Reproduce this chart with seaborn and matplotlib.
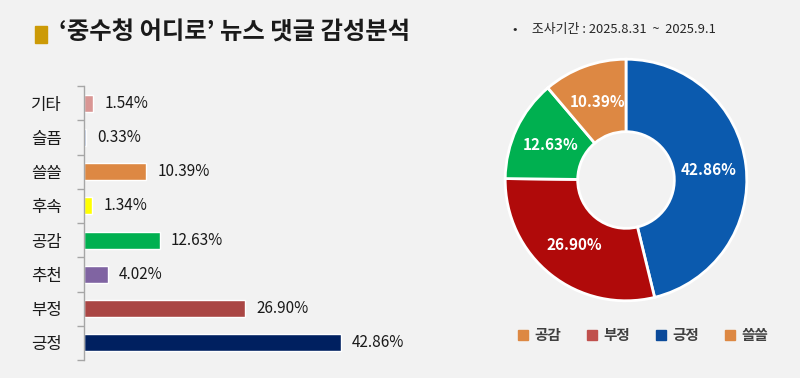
import numpy as np
import pandas as pd
import matplotlib
matplotlib.use('Agg')
import matplotlib.pyplot as plt
import seaborn as sns
from matplotlib.patches import Rectangle
from matplotlib.lines import Line2D

# 데이터
categories = ['기타', '슬픔', '쓸쓸', '후속', '공감', '추천', '부정', '긍정']
values = [1.54, 0.33, 10.39, 1.34, 12.63, 4.02, 26.90, 42.86]
bar_colors = ['#D99694', '#B4C7E7', '#DD8843', '#FFFF00', '#00B050', '#8064A2', '#AA4644', '#002060']

pie_labels = ['긍정', '부정', '공감', '쓸쓸']
pie_values = [42.86, 26.90, 12.63, 10.39]
pie_colors = ['#0B5AAE', '#B00A0A', '#00B050', '#DD8843']

legend_labels = ['공감', '부정', '긍정', '쓸쓸']
legend_colors = ['#DD8843', '#C0504D', '#0B4A9A', '#DD8843']

sns.set_style('white')
plt.rcParams['font.family'] = ['Noto Sans CJK KR', 'DejaVu Sans']
plt.rcParams['axes.unicode_minus'] = False

bg = '#F2F2F2'
fig = plt.figure(figsize=(8, 3.78), dpi=100, facecolor=bg)

# 제목
fig.patches.append(Rectangle((35 / 800, 1 - 43 / 378), 12 / 800, 17 / 378,
                             transform=fig.transFigure, color='#CC9A06'))
fig.text(59 / 800, 1 - 33 / 378, '‘중수청 어디로’ 뉴스 댓글 감성분석',
         fontsize=17.5, fontweight='bold', color='#1A1A1A', va='center')
fig.text(513 / 800, 1 - 30 / 378, '•     조사기간 : 2025.8.31  ~  2025.9.1',
         fontsize=9.3, color='#262626', va='center')

# 막대 그래프
ax = fig.add_axes([84 / 800, 1 - 360 / 378, 346 / 800, 274 / 378])
ax.set_facecolor(bg)
df = pd.DataFrame({'category': categories, 'value': values})
sns.barplot(data=df, x='value', y='category', hue='category',
            palette=dict(zip(categories, bar_colors)), width=0.5, saturation=1,
            legend=False, ax=ax, order=categories)
ax.set_xlim(0, 57.7)
ax.set_ylim(len(categories) - 0.5, -0.5)
ax.set_xlabel('')
ax.set_ylabel('')
ax.set_xticks([])
for s in ['top', 'right', 'bottom']:
    ax.spines[s].set_visible(False)
ax.spines['left'].set_color('#A6A6A6')
ax.spines['left'].set_linewidth(1)
ax.tick_params(axis='y', which='major', left=False, length=0, pad=16, labelsize=12, labelcolor='#1A1A1A')
ax.set_yticks(np.arange(-0.5, len(categories)), minor=True)
ax.tick_params(axis='y', which='minor', left=True, length=5, width=1, color='#A6A6A6', direction='out')
for i, v in enumerate(values):
    ax.annotate(f'{v:.2f}%', (v, i), xytext=(8, 0), textcoords='offset points',
                va='center', ha='left', fontsize=11, color='#1A1A1A')

# 도넛 차트
pax = fig.add_axes([(626 - 122) / 800, 1 - (180 + 122) / 378, 244 / 800, 244 / 378])
pax.set_facecolor(bg)
wedges, texts = pax.pie(pie_values, colors=pie_colors, startangle=90, counterclock=False,
                        labels=[f'{v:.2f}%' for v in pie_values], labeldistance=0.69,
                        wedgeprops=dict(width=0.6, edgecolor='white', linewidth=2))
for t in texts:
    t.set_color('white')
    t.set_fontweight('bold')
    t.set_fontsize(11)
    t.set_ha('center')
    t.set_va('center')
pax.set_xlim(-1.01, 1.01)
pax.set_ylim(-1.01, 1.01)
pax.set_aspect('equal')
pax.axis('off')

handles = [Line2D([0], [0], marker='s', linestyle='', markersize=7,
                  markerfacecolor=c, markeredgecolor=c) for c in legend_colors]
leg = fig.legend(handles, legend_labels, loc='center', bbox_to_anchor=(641 / 800, 1 - 335 / 378),
                 ncol=4, frameon=False, handletextpad=0.2, columnspacing=1.5, handlelength=1.2,
                 prop={'weight': 'bold', 'size': 10.5})
for t in leg.get_texts():
    t.set_color('#404040')

plt.savefig('out.png', dpi=100, facecolor=bg)
